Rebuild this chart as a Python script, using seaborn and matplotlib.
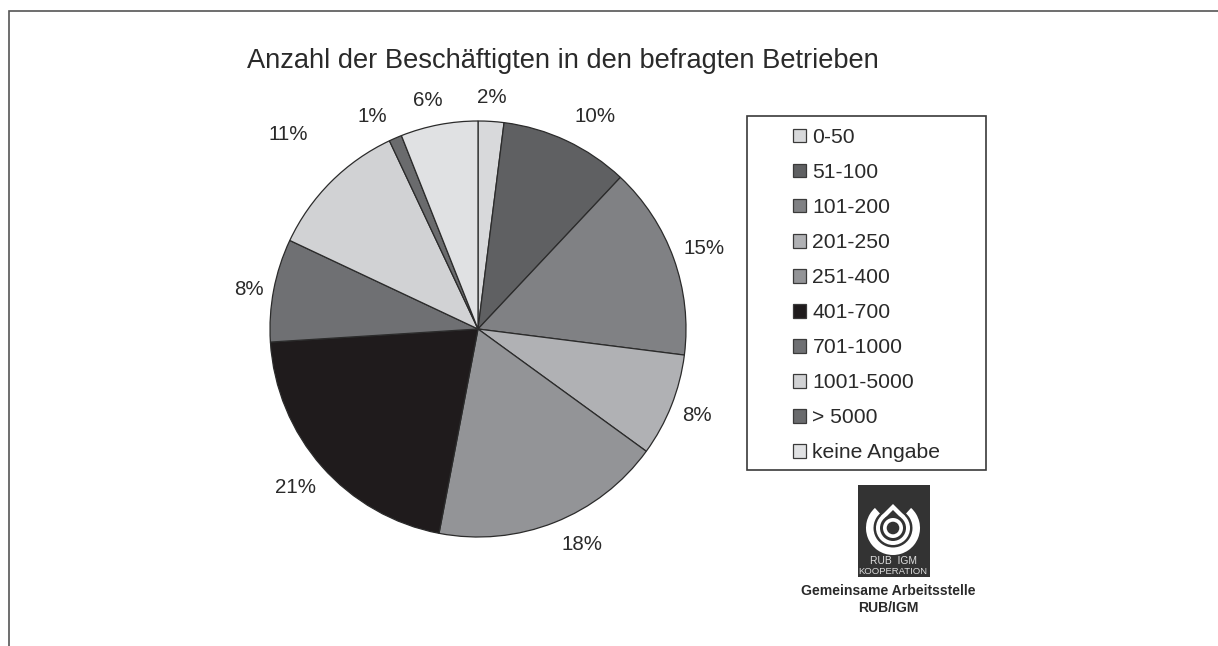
import matplotlib
matplotlib.use("Agg")
import matplotlib.pyplot as plt
import numpy as np
import seaborn as sns
from matplotlib.patches import Circle, Polygon, Rectangle, Wedge

# Chart data
categories = ["0-50", "51-100", "101-200", "201-250", "251-400", "401-700",
              "701-1000", "1001-5000", "> 5000", "keine Angabe"]
shares = [2, 10, 15, 8, 18, 21, 8, 11, 1, 6]
title = "Anzahl der Beschäftigten in den befragten Betrieben"

# Greys
greys = ["#d8d9db", "#5f6062", "#808184", "#b0b1b4", "#939497",
         "#1f1b1c", "#6f7073", "#d1d2d4", "#6a6b6d", "#e0e1e3"]
# Label placement: distance from centre and a small nudge in pixels
label_dist = [1.12, 1.17, 1.155, 1.13, 1.14, 1.165, 1.12, 1.32, 1.15, 1.135]
label_nudge = [(-1, -1), (13, -8), (0, -1), (0, 0), (17, 5), (-1, 2), (0, -4), (4, 0), (-11, -7), (-6, -3)]

sns.set_theme(style="white")
plt.rcParams["font.family"] = ["Liberation Sans", "DejaVu Sans"]
text_color = "#2a2a2a"

fig = plt.figure(figsize=(12.18, 6.46), dpi=100, facecolor="white")

# Overlay in pixel coordinates for frame, title and logo
overlay = fig.add_axes([0, 0, 1, 1])
overlay.set_xlim(0, 1218)
overlay.set_ylim(646, 0)
overlay.axis("off")

overlay.plot([9, 9, 1218], [646, 11, 11], color="#555555", lw=1.2, solid_joinstyle="miter")
overlay.text(562.5, 61, title, fontsize=19.6, color=text_color, ha="center", va="center")

# Pie
ax = fig.add_axes([270 / 1218, (646 - 329 - 208) / 646, 416 / 1218, 416 / 646])
wedges, _ = ax.pie(shares, colors=sns.color_palette(greys), startangle=90, counterclock=False,
                   radius=1, wedgeprops={"edgecolor": "#2b2b2b", "linewidth": 0.9})
ax.set_xlim(-1, 1)
ax.set_ylim(-1, 1)

for w, v, d, nudge in zip(wedges, shares, label_dist, label_nudge):
    mid = np.deg2rad((w.theta1 + w.theta2) / 2)
    ax.annotate(f"{v}%", (d * np.cos(mid), d * np.sin(mid)), xytext=nudge, textcoords="offset pixels",
                fontsize=14.8, color=text_color, ha="center", va="center", annotation_clip=False)

# Legend box
overlay.add_patch(Rectangle((747, 116), 239, 354, fill=False, edgecolor="#3a3a3a", lw=1.2))
leg = overlay.legend(wedges, categories, loc="upper left",
                     bbox_to_anchor=(793 / 1218, 1 - 128 / 646), bbox_transform=fig.transFigure,
                     frameon=False, fontsize=15.2, labelspacing=0.76, borderpad=0, borderaxespad=0,
                     handlelength=0.62, handleheight=0.62, handletextpad=0.3, labelcolor=text_color)
for h in leg.get_patches():
    h.set_linewidth(0.9)
    h.set_edgecolor("#3a3a3a")

# Logo
logo_dark = "#333333"
cx, cy = 893, 528
overlay.add_patch(Rectangle((858, 485), 72, 92, color=logo_dark, lw=0))
# y axis is inverted, so the gap at the top sits around 270 degrees
overlay.add_patch(Wedge((cx, cy), 27, -48, 228, width=7.5, color="white", lw=0))
overlay.add_patch(Polygon([(cx - 12, cy - 12), (cx, cy - 24), (cx + 12, cy - 12)], color="white", lw=0))
overlay.add_patch(Circle((cx, cy), 17, color="white", lw=0))
overlay.add_patch(Polygon([(cx - 8, cy - 10), (cx, cy - 18), (cx + 8, cy - 10)], color=logo_dark, lw=0))
overlay.add_patch(Circle((cx, cy), 13, color=logo_dark, lw=0))
overlay.add_patch(Circle((cx, cy), 10, color="white", lw=0))
overlay.add_patch(Circle((cx, cy), 6.3, color=logo_dark, lw=0))
overlay.text(cx, 561, "RUB  IGM", fontsize=7.4, color="#dddddd", ha="center", va="center")
overlay.text(cx, 571, "KOOPERATION", fontsize=6.8, color="#dddddd", ha="center", va="center")

overlay.text(888.5, 591, "Gemeinsame Arbeitsstelle", fontsize=10.1, fontweight="bold",
             color=text_color, ha="center", va="center")
overlay.text(888.5, 608, "RUB/IGM", fontsize=10.1, fontweight="bold",
             color=text_color, ha="center", va="center")

fig.savefig("out.png", dpi=100)
